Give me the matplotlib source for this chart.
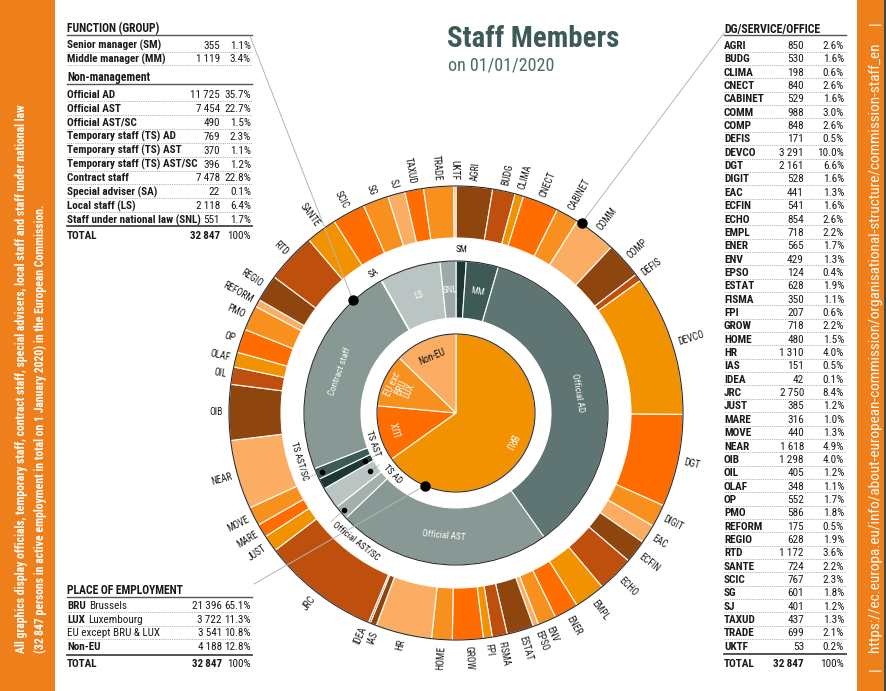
import matplotlib
matplotlib.use('Agg')
import matplotlib.pyplot as plt
from matplotlib.patches import Rectangle, Circle
from matplotlib import font_manager as fm
import numpy as np

W, H = 887, 691

# ---------------- data ----------------
TOTAL = 32847

fn_mgmt_labels = ['Senior manager (SM)', 'Middle manager (MM)']
fn_mgmt_values = [355, 1119]
fn_staff_labels = ['Official AD', 'Official AST', 'Official AST/SC',
                   'Temporary staff (TS) AD', 'Temporary staff (TS) AST',
                   'Temporary staff (TS) AST/SC', 'Contract staff',
                   'Special adviser (SA)', 'Local staff (LS)',
                   'Staff under national law (SNL)']
fn_staff_values = [11725, 7454, 490, 769, 370, 396, 7478, 22, 2118, 551]

ring_labels = ['SM', 'MM', 'Official AD', 'Official AST', 'Official AST/SC',
               'TS AD', 'TS AST', 'TS AST/SC', 'Contract staff', 'SA', 'LS', 'SNL']
ring_values = fn_mgmt_values + fn_staff_values

place_codes = ['BRU', 'LUX', '', 'Non-EU']
place_names = ['Brussels', 'Luxembourg', 'EU except BRU & LUX', '']
place_values = [21396, 3722, 3541, 4188]
pie_labels = ['BRU', 'LUX', 'EU exc\nBRU\nLUX', 'Non-EU']

dg_labels = ['AGRI', 'BUDG', 'CLIMA', 'CNECT', 'CABINET', 'COMM', 'COMP', 'DEFIS',
             'DEVCO', 'DGT', 'DIGIT', 'EAC', 'ECFIN', 'ECHO', 'EMPL', 'ENER', 'ENV',
             'EPSO', 'ESTAT', 'FISMA', 'FPI', 'GROW', 'HOME', 'HR', 'IAS', 'IDEA',
             'JRC', 'JUST', 'MARE', 'MOVE', 'NEAR', 'OIB', 'OIL', 'OLAF', 'OP', 'PMO',
             'REFORM', 'REGIO', 'RTD', 'SANTE', 'SCIC', 'SG', 'SJ', 'TAXUD', 'TRADE', 'UKTF']
dg_values = [850, 530, 198, 840, 529, 988, 848, 171, 3291, 2161, 528, 441, 541, 854,
             718, 565, 429, 124, 628, 350, 207, 718, 480, 1310, 151, 42, 2750, 385,
             316, 440, 1618, 1298, 405, 348, 552, 586, 175, 628, 1172, 724, 767, 601,
             401, 437, 699, 53]

# ---------------- font choice (narrowest available) ----------------
entries = fm.fontManager.ttflist
names = {f.name for f in entries}
FONT, STRETCH = None, 'normal'
for cand in ['Liberation Sans Narrow', 'Roboto Condensed', 'Noto Sans Condensed',
             'Open Sans Condensed', 'DejaVu Sans Condensed', 'Arial Narrow', 'Noto Sans Display Condensed']:
    if cand in names:
        FONT = [cand, 'DejaVu Sans']
        break
if FONT is None:
    for fam in ['Noto Sans', 'Roboto', 'Open Sans', 'DejaVu Sans']:
        if any(f.name == fam and str(f.stretch) in ('condensed', 'semi-condensed', 'extra-condensed')
               for f in entries):
            FONT, STRETCH = [fam, 'DejaVu Sans'], 'condensed'
            break
if FONT is None:
    FONT = ['Roboto', 'DejaVu Sans'] if 'Roboto' in names else ['DejaVu Sans']

# ---------------- styles ----------------
ORANGE = '#EF7F1A'
TEAL = '#3d5a58'
PAL = ['#8f450e', '#bf4f0d', '#f29200', '#ff6c00', '#f8901e', '#fbae63']
dg_cidx = [i % 6 for i in range(25)] + [0] + [(i - 1) % 6 for i in range(26, 43)] + [3, 4, 5]
dg_colors = [PAL[k] for k in dg_cidx]
ring_colors = ['#1d3834', '#3d5a57', '#5e7573', '#879895', '#a3b0ae', '#bac4c2',
               '#1d3834', '#3d5a57', '#879895', '#1d3834', '#bac4c2', '#9ba9a7']
pie_colors = ['#f29200', '#ff6c00', '#f8901e', '#fbae63']

fig = plt.figure(figsize=(W / 100, H / 100), dpi=100)
ax = fig.add_axes([0, 0, 1, 1])


def set_limits():
    ax.set_xlim(0, W)
    ax.set_ylim(0, H)
    ax.set_aspect('equal')


set_limits()
renderer = fig.canvas.get_renderer()


def Y(y):
    return H - y


CX, CY = 456, Y(413)
R_OUT, R_OUT_IN = 227, 175
R_MID, R_MID_IN = 152, 95
R_PIE = 79


def polar(theta_deg, r):
    t = np.radians(theta_deg)
    return CX + r * np.cos(t), CY + r * np.sin(t)


def cw(angle_cw):
    return 90 - angle_cw


def measure(s, size, weight='normal'):
    t = ax.text(0, 0, s, fontsize=size, fontweight=weight, family=FONT, fontstretch=STRETCH)
    w = t.get_window_extent(renderer=renderer).width
    t.remove()
    return w


def fit(strings, size, weight, maxw, cap=None):
    m = max(measure(s, size, weight) for s in strings)
    s = size * maxw / m
    if cap is not None:
        s = min(s, cap)
    return s


def T(x, y, s, size=8, weight='normal', color='#1a1a1a', ha='left', va='baseline', **kw):
    return ax.text(x, y, s, fontsize=size, fontweight=weight, color=color, ha=ha, va=va,
                   family=FONT, fontstretch=STRETCH, **kw)


def txt(x, y, s, **kw):
    return T(x, Y(y), s, **kw)


def fmt(v):
    return f"{v:,}".replace(',', '\u2009')


def pct(v):
    return f"{v / TOTAL * 100:.1f}%"


# ---------------- rings ----------------
wprops = dict(edgecolor='white', linewidth=0.8)
outer_w, _ = ax.pie(dg_values, radius=R_OUT, center=(CX, CY), startangle=90, counterclock=False,
                    colors=dg_colors, wedgeprops=dict(width=R_OUT - R_OUT_IN, **wprops))
mid_w, _ = ax.pie(ring_values, radius=R_MID, center=(CX, CY), startangle=90, counterclock=False,
                  colors=ring_colors, wedgeprops=dict(width=R_MID - R_MID_IN, **wprops))
pie_w, _ = ax.pie(place_values, radius=R_PIE, center=(CX, CY), startangle=90, counterclock=False,
                  colors=pie_colors, wedgeprops=dict(**wprops))
set_limits()
for r in (R_OUT, R_MID, R_PIE):
    ax.add_patch(Circle((CX, CY), r, fill=False, ec='#2a2a2a', lw=0.8, zorder=3))

# ---------------- side bars ----------------
ax.add_patch(Rectangle((0, 0), 55, H, color=ORANGE, lw=0))
ax.add_patch(Rectangle((857, 0), 27, H, color=ORANGE, lw=0))
ax.add_patch(Rectangle((884, 0), 3, H, color='#3b4a48', lw=0))
left_lines = ["All graphics display officials, temporary staff, contract staff, special advisers, local staff and staff under national law",
              "(32\u2009847 persons in active employment in total on 1 January 2020) in the European Commission."]
fs_left = fit(left_lines[:1], 8, 'bold', 602, cap=8.5)
for i, s in enumerate(left_lines):
    T(22 + 18 * i, Y(653), s, size=fs_left, weight='bold', color='white', rotation=90,
      rotation_mode='anchor', ha='left', va='center')
url = "https://ec.europa.eu/info/about-european-commission/organisational-structure/commission-staff_en"
fs_url = fit([url], 11, 'normal', 605, cap=11)
T(875, Y(347), url, size=fs_url, color='white', rotation=90, rotation_mode='anchor', ha='center', va='center')
for yy in (23, 669):
    T(875, Y(yy), '|', size=fs_url, color='white', rotation=90, rotation_mode='anchor', ha='center', va='center')

# ---------------- title ----------------
fs_title = fit(['Staff Members'], 21, 'bold', 172, cap=22)
txt(447, 46.5, 'Staff Members', size=fs_title, weight='bold', color=TEAL)
fs_sub = fit(['on 01/01/2020'], 14, 'normal', 107, cap=14)
txt(448, 70, 'on 01/01/2020', size=fs_sub, color='#4d6967')

# outer labels
fs_outer = fit(['CABINET'], 7.5, 'normal', 34, cap=8)
label_shift = {'IAS': 1.0, 'IDEA': -1.0}
for w, lab in zip(outer_w, dg_labels):
    th = 0.5 * (w.theta1 + w.theta2) + label_shift.get(lab, 0)
    x, y = polar(th, R_OUT + 6)
    if np.cos(np.radians(th)) >= 0:
        rot, ha = th, 'left'
    else:
        rot, ha = th - 180, 'right'
    T(x, y, lab, size=fs_outer, rotation=rot, rotation_mode='anchor', ha=ha, va='center')


def tang_rot(th):
    rot = th - 90
    if np.sin(np.radians(th)) < 0:
        rot += 180
    return rot


# middle ring labels
fs_mid = fit(['Official AST'], 8, 'normal', 43, cap=8.5)
small = {
    'SM': dict(ang=None, r=163),
    'SA': dict(ang=329.5, r=162),
    'TS AST/SC': dict(ang=253, r=164, dot=146, lend=168),
    'Official AST/SC': dict(ang=218, r=163, dot=148, lend=166),
    'TS AST': dict(ang=250, r=88, dot=103, lend=92),
    'TS AD': dict(ang=226, r=88, dot=104, lend=92),
}
for w, lab in zip(mid_w, ring_labels):
    thm = 0.5 * (w.theta1 + w.theta2)
    if lab in small:
        cfg = small[lab]
        th = thm if cfg['ang'] is None else cw(cfg['ang'])
        x, y = polar(th, cfg['r'])
        T(x, y, lab, size=fs_mid, color='#111111', rotation=tang_rot(th), rotation_mode='anchor',
          ha='center', va='center', zorder=5)
        if 'dot' in cfg:
            p1 = polar(thm, cfg['dot'])
            p2 = polar(thm, cfg['lend'])
            ax.plot([p1[0], p2[0]], [p1[1], p2[1]], color='#777777', lw=0.6, ls=(0, (1, 1)), zorder=5)
            ax.plot([p1[0]], [p1[1]], 'o', color='black', ms=3, zorder=6)
    else:
        x, y = polar(thm, 0.5 * (R_MID + R_MID_IN))
        T(x, y, lab, size=fs_mid, color='white', rotation=tang_rot(thm), rotation_mode='anchor',
          ha='center', va='center', zorder=5)

# pie labels
fs_pie = fit(['Non-EU'], 8, 'normal', 28, cap=8.5)
for w, lab, col in zip(pie_w, pie_labels, ['white', 'white', 'white', '#111111']):
    th = 0.5 * (w.theta1 + w.theta2)
    x, y = polar(th, 61)
    T(x, y, lab, size=fs_pie, color=col, rotation=th - 90, rotation_mode='anchor', ha='center',
      va='center', linespacing=0.85, zorder=5)

# leader lines from tables
leaders = [((250, 36), cw(317.6), R_MID + 1),
           ((724, 33), cw(33.5), R_OUT + 1),
           ((254, 584), cw(203.3), R_PIE)]
for (sx, sy), th, r in leaders:
    ex, ey = polar(th, r)
    ax.plot([sx, ex], [Y(sy), ey], color='#b5b5b5', lw=0.7, zorder=4)
    ax.plot([ex], [ey], 'o', color='black', ms=6.5, zorder=6)

# ---------------- tables ----------------
DOT = dict(color='#9a9a9a', lw=0.6, ls=(0, (1, 1.2)))
SOLID = dict(color='#555555', lw=1.0)


def hline(x0, x1, y, style):
    ax.plot([x0, x1], [Y(y), Y(y)], **style)


fs_tab = fit(fn_staff_labels, 8, 'bold', 134, cap=8.5)

# function table
L0, NX, PX = 67, 220, 251
txt(L0, 32.5, 'FUNCTION (GROUP)', size=fs_tab * 1.05, weight='bold')
hline(L0, 252, 35, SOLID)
ys = [45, 58.3]
for lab, v, y in zip(fn_mgmt_labels, fn_mgmt_values, ys):
    txt(L0, y + 4, lab, size=fs_tab, weight='bold')
    txt(NX, y + 4, fmt(v), size=fs_tab, ha='right')
    txt(PX, y + 4, pct(v), size=fs_tab, ha='right')
    hline(L0, 252, y + 6.8, DOT)
txt(L0, 80.7, 'Non-management', size=fs_tab * 1.05, weight='bold')
hline(L0, 252, 83.5, SOLID)
for i, (lab, v) in enumerate(zip(fn_staff_labels, fn_staff_values)):
    y = 94 + 13.9 * i
    txt(L0, y + 4, lab, size=fs_tab, weight='bold')
    txt(NX, y + 4, fmt(v), size=fs_tab, ha='right')
    txt(PX, y + 4, pct(v), size=fs_tab, ha='right')
    if i < len(fn_staff_labels) - 1:
        hline(L0, 252, y + 7, DOT)
hline(L0, 252, 226, dict(color='#444444', lw=1.3))
txt(L0, 239, 'TOTAL', size=fs_tab, weight='bold')
txt(NX, 239, fmt(TOTAL), size=fs_tab, ha='right', weight='bold')
txt(PX, 239, '100%', size=fs_tab, ha='right')

# place table
NX2 = 222
inv = ax.transData.inverted()
txt(L0, 594, 'PLACE OF EMPLOYMENT', size=fs_tab * 1.05, weight='bold')
hline(L0, 252, 596.5, SOLID)
for i, (code, name, v) in enumerate(zip(place_codes, place_names, place_values)):
    y = 605 + 13.7 * i
    xoff = L0
    if code:
        t = txt(L0, y + 4, code, size=fs_tab, weight='bold')
        bb = t.get_window_extent(renderer=renderer)
        xoff = inv.transform((bb.x1, bb.y0))[0] + (3 if name else 0)
    if name:
        txt(xoff, y + 4, name, size=fs_tab)
    txt(NX2, y + 4, fmt(v), size=fs_tab, ha='right')
    txt(PX, y + 4, pct(v), size=fs_tab, ha='right')
    if i < len(place_values) - 1:
        hline(L0, 252, y + 7, DOT)
hline(L0, 252, 654.5, dict(color='#444444', lw=1.3))
txt(L0, 667.3, 'TOTAL', size=fs_tab, weight='bold')
txt(NX2, 667.3, fmt(TOTAL), size=fs_tab, ha='right', weight='bold')
txt(PX, 667.3, '100%', size=fs_tab, ha='right')

# DG table
fs_dg = fit(['CABINET'], 8, 'bold', 41, cap=8.5)
D0, DN, DP, DR = 724, 804, 844, 846
txt(D0, 32.5, 'DG/SERVICE/OFFICE', size=fs_dg * 1.05, weight='bold')
hline(D0, DR, 35, SOLID)
for i, (lab, v) in enumerate(zip(dg_labels, dg_values)):
    y = 45 + 13.35 * i
    txt(D0, y + 4, lab, size=fs_dg, weight='bold')
    txt(DN, y + 4, fmt(v), size=fs_dg, ha='right')
    txt(DP, y + 4, pct(v), size=fs_dg, ha='right')
    if i < len(dg_labels) - 1:
        hline(D0, DR, y + 6.7, DOT)
hline(D0, DR, 653.5, dict(color='#444444', lw=1.3))
txt(D0, 667.3, 'TOTAL', size=fs_dg, weight='bold')
txt(DN, 667.3, fmt(TOTAL), size=fs_dg, ha='right', weight='bold')
txt(DP, 667.3, '100%', size=fs_dg, ha='right')

set_limits()
ax.axis('off')
fig.savefig('out.png', dpi=100)
